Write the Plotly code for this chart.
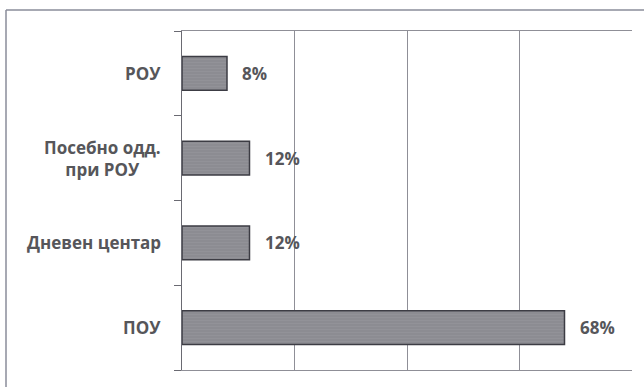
import plotly.graph_objects as go

categories = ["ПОУ", "Дневен центар", "Посебно одд.<br>при РОУ", "РОУ"]
values = [68, 12, 12, 8]
value_labels = ["68%", "12%", "12%", "8%"]

W, H = 644, 387
L, R, T, B = 182, 12, 31, 17
pw, ph = W - L - R, H - T - B

font_color = "#56565a"
fam = "'Open Sans', sans-serif"

fig = go.Figure()
fig.add_trace(go.Bar(
    y=categories, x=values, orientation="h",
    width=0.4,
    marker=dict(color="#8c8c92", line=dict(color="#3c3c44", width=1.5),
                pattern=dict(shape="-", fgcolor="#9c9ca2", size=3, solidity=0.25)),
    hoverinfo="skip",
))

annotations = []
for c, v, t in zip(categories, values, value_labels):
    annotations.append(dict(x=v, y=c, xref="x", yref="y", text=t, showarrow=False,
                            xanchor="left", xshift=13,
                            font=dict(family=fam, size=17, color=font_color, weight="bold")))
    annotations.append(dict(x=0, y=c, xref="paper", yref="y", text=c, showarrow=False,
                            xanchor="right", xshift=-19, align="center",
                            font=dict(family=fam, size=17, color=font_color, weight="bold")))

fx0 = (6 - L) / pw
fx1 = (700 - L) / pw
fy1 = (H - 10 - B) / ph
fy0 = (H - 420 - B) / ph
frame = dict(color="#8a8c9a", width=1.5)
shapes = [
    dict(type="line", xref="paper", yref="paper", x0=fx0, x1=fx1, y0=fy1, y1=fy1, line=frame, layer="below"),
    dict(type="line", xref="paper", yref="paper", x0=fx0, x1=fx0, y0=fy0, y1=fy1, line=frame, layer="below"),
]

fig.update_layout(
    width=W, height=H,
    margin=dict(l=L, r=R, t=T, b=B),
    paper_bgcolor="white", plot_bgcolor="white",
    showlegend=False,
    annotations=annotations,
    shapes=shapes,
    xaxis=dict(range=[0, 80], dtick=20, showticklabels=False, showgrid=True,
               gridcolor="#8f8f97", gridwidth=1, zeroline=False,
               showline=True, linecolor="#8f8f97", linewidth=1, mirror=True, ticks=""),
    yaxis=dict(type="category", showticklabels=False, ticks="outside", tickson="boundaries",
               ticklen=7, tickcolor="#6a6a72", showline=True, linecolor="#6a6a72",
               linewidth=1.2, mirror=False, showgrid=False, zeroline=False),
)

fig.write_html("out.html")
